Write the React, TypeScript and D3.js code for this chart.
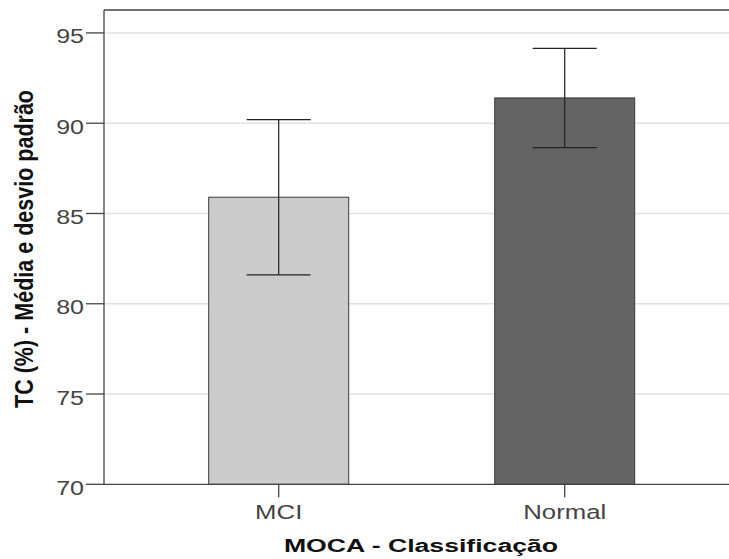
import React from 'react';
import * as d3 from 'd3';

// MOCA groups, mean TC (%) and standard deviation
const categories = ['MCI', 'Normal'];
const means = [85.9, 91.4];
const sds = [4.3, 2.75];
const fills = ['#cccccc', '#646464'];
const yTicks = [70, 75, 80, 85, 90, 95];

const W = 729;
const H = 559;
const left = 104;
const top = 10;
const bottom = 484.3;

export default function App() {
  const y = d3.scaleLinear().domain([70, 96.27]).range([bottom, top]);
  const x = d3.scalePoint<string>().domain(categories).range([278.7, 564.7]);
  const barW = 140;
  const capW = 64;
  const font = '"Liberation Sans", Arial, sans-serif';

  return (
    <svg
      width={W}
      height={H}
      style={{ position: 'absolute', left: 0, top: 0, background: '#fff' }}
      fontFamily={font}
    >
      {/* gridlines */}
      {yTicks.filter(t => t > 70).map(t => (
        <line key={'g' + t} x1={left} x2={W} y1={y(t)} y2={y(t)} stroke="#e2e2e2" strokeWidth={1.5} />
      ))}

      {/* bars */}
      {categories.map((c, i) => (
        <rect
          key={c}
          x={(x(c) as number) - barW / 2}
          y={y(means[i])}
          width={barW}
          height={bottom - y(means[i])}
          fill={fills[i]}
          stroke="#3a3a3a"
          strokeWidth={1}
        />
      ))}

      {/* error bars */}
      {categories.map((c, i) => {
        const cx = x(c) as number;
        const hi = y(means[i] + sds[i]);
        const lo = y(means[i] - sds[i]);
        return (
          <g key={'e' + c} stroke="#222" strokeWidth={1.2}>
            <line x1={cx} x2={cx} y1={hi} y2={lo} />
            <line x1={cx - capW / 2} x2={cx + capW / 2} y1={hi} y2={hi} />
            <line x1={cx - capW / 2} x2={cx + capW / 2} y1={lo} y2={lo} />
          </g>
        );
      })}

      {/* frame */}
      <line x1={left} x2={W} y1={top} y2={top} stroke="#444" strokeWidth={1.3} />
      <line x1={left} x2={left} y1={top} y2={bottom} stroke="#444" strokeWidth={1.3} />
      <line x1={left} x2={W} y1={bottom} y2={bottom} stroke="#444" strokeWidth={1.3} />

      {/* y ticks */}
      {yTicks.map(t => (
        <g key={'y' + t}>
          <line x1={86} x2={left} y1={y(t)} y2={y(t)} stroke="#444" strokeWidth={1.3} />
          <text
            transform={`translate(84,${y(t) + 10.5}) scale(1.25,1)`}
            textAnchor="end"
            fontSize={20}
            fill="#444"
          >
            {t}
          </text>
        </g>
      ))}

      {/* x ticks */}
      {categories.map(c => (
        <g key={'x' + c}>
          <line x1={x(c)} x2={x(c)} y1={bottom} y2={bottom + 13} stroke="#444" strokeWidth={1.3} />
          <text
            transform={`translate(${x(c)},519) scale(1.32,1)`}
            textAnchor="middle"
            fontSize={19.5}
            fill="#444"
          >
            {c}
          </text>
        </g>
      ))}

      {/* axis titles */}
      <text
        transform="translate(421,552) scale(1.48,1)"
        textAnchor="middle"
        fontSize={18}
        fontWeight="bold"
        fill="#111"
      >
        MOCA - Classificação
      </text>
      <text
        transform="translate(33,249) scale(1.3,1) rotate(-90)"
        textAnchor="middle"
        fontSize={20}
        fontWeight="bold"
        fill="#111"
        textLength={318}
        lengthAdjust="spacingAndGlyphs"
      >
        TC (%) - Média e desvio padrão
      </text>
    </svg>
  );
}
